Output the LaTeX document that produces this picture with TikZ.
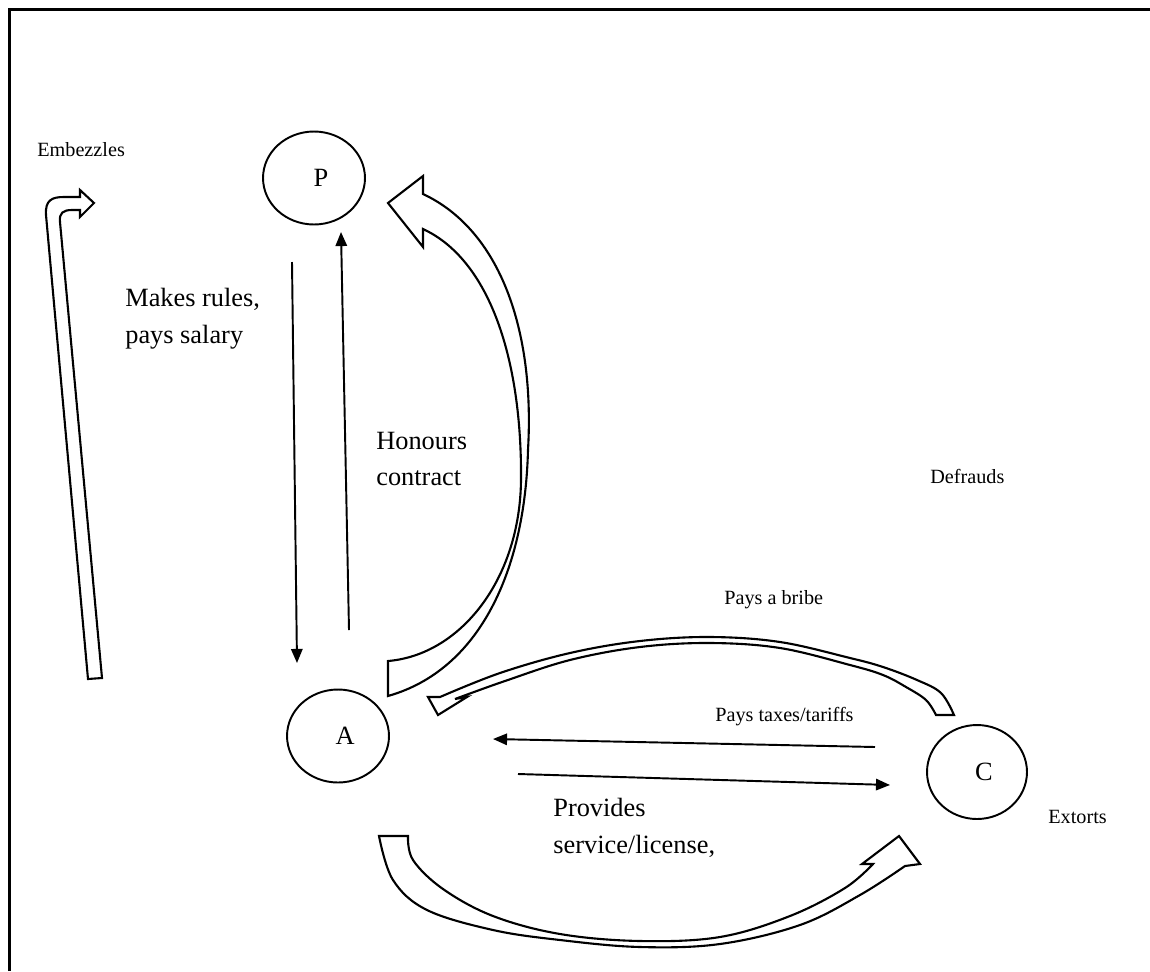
\documentclass[tikz,border=0pt]{standalone}
\usepackage{fontspec}
\setmainfont{Liberation Serif}
\usetikzlibrary{arrows.meta,shapes.geometric}

\tikzset{
  agent/.style={draw, ellipse, line width=1.1pt, minimum width=2.04cm, minimum height=1.86cm, inner sep=0pt,
    font=\fontsize{15}{18}\selectfont},
  small/.style={font=\fontsize{11.5}{14}\selectfont, inner sep=0pt, anchor=west},
  big/.style={font=\fontsize{15}{21}\selectfont, inner sep=0pt, anchor=west, align=left},
  thin/.style={line width=1.1pt, -{Triangle[length=8pt, width=6.5pt]}},
  hollow/.style={draw, fill=white, line width=1.2pt, line join=miter}
}

\begin{document}
\begin{tikzpicture}[x=0.02cm, y=-0.02cm]
\useasboundingbox (0,0) rectangle (1150,971);
\draw[line width=1.5pt] (9.5,971) -- (9.5,9.5) -- (1150,9.5);

\coordinate (PC) at (314,178);
\coordinate (AC) at (338,736);
\coordinate (CC) at (977,772);

\node[agent] (P) at (PC) {\hspace{8pt}P};
\node[agent] (A) at (AC) {\hspace{8pt}A};
\node[agent, minimum width=2cm, minimum height=1.88cm] (C) at (CC) {\hspace{8pt}C};

% thin arrows between P, A and C
\coordinate (PA1) at (292,262);
\coordinate (PA2) at (297,663);
\coordinate (AP1) at (349,630);
\coordinate (AP2) at (341,232);
\coordinate (CA1) at (875,747);
\coordinate (CA2) at (493,739);
\coordinate (AC1) at (518,774);
\coordinate (AC2) at (890,785);

\draw[thin] (PA1) -- (PA2);
\draw[thin] (AP1) -- (AP2);
\draw[thin] (CA1) -- (CA2);
\draw[thin] (AC1) -- (AC2);

% hollow arrows
\draw[hollow] (88,679) -- (46,215) .. controls (45,200) and (52,197) .. (64,197) -- (80,197) -- (80,190) -- (94,203)
  -- (80,217) -- (80,210) -- (72,210) .. controls (63,210) and (59,213) .. (60,222) -- (102,678) -- cycle;

\draw[hollow] (388,661) .. controls (460,655) and (520,580) .. (521,480) .. controls (522,360) and (490,260) .. (423,229)
  -- (423,247) -- (388,203) -- (423,176) -- (423,194) .. controls (500,230) and (535,330) .. (528,450)
  .. controls (525,570) and (480,670) .. (388,696) -- cycle;

\draw[hollow] plot[smooth, tension=0.6] coordinates {(954,715) (941,693) (917,680) (883,667) (850,658) (780,642) (710,637) (640,641) (570,653) (500,673) (440,697)}
  -- (428,697) -- (438,715) -- (467,697) -- (455,699)
  -- plot[smooth, tension=0.6] coordinates {(455,699) (505,681) (570,660) (640,647) (710,643) (780,648) (850,665) (883,675) (906,687) (926,700) (936,715)} -- cycle;

\draw[hollow] plot[smooth, tension=0.6] coordinates {(379,836) (393,880) (427,910) (493,930) (560,940) (640,947) (720,944) (800,925) (860,895) (905,866)}
  -- (920,864) -- (899,836) -- (862,864) -- (873,864)
  -- plot[smooth, tension=0.6] coordinates {(873,864) (845,888) (790,916) (720,937) (640,941) (560,934) (493,916) (443,889) (413,860) (408,836)} -- cycle;

% labels
\node[small] (EMB) at (37,150) {Embezzles};
\node[big] (RUL) at (125,319) {Makes rules,\\pays salary};
\node[big] (HON) at (376,459) {Honours\\contract};
\node[small] (DEF) at (930,476) {Defrauds};
\node[small] (BRI) at (724,600) {Pays a bribe};
\node[small] (TAX) at (715,717) {Pays taxes/tariffs};
\node[big] (PRO) at (553,828) {Provides\\service/license,};
\node[small] (EXT) at (1048,817) {Extorts};
\end{tikzpicture}
\end{document}
